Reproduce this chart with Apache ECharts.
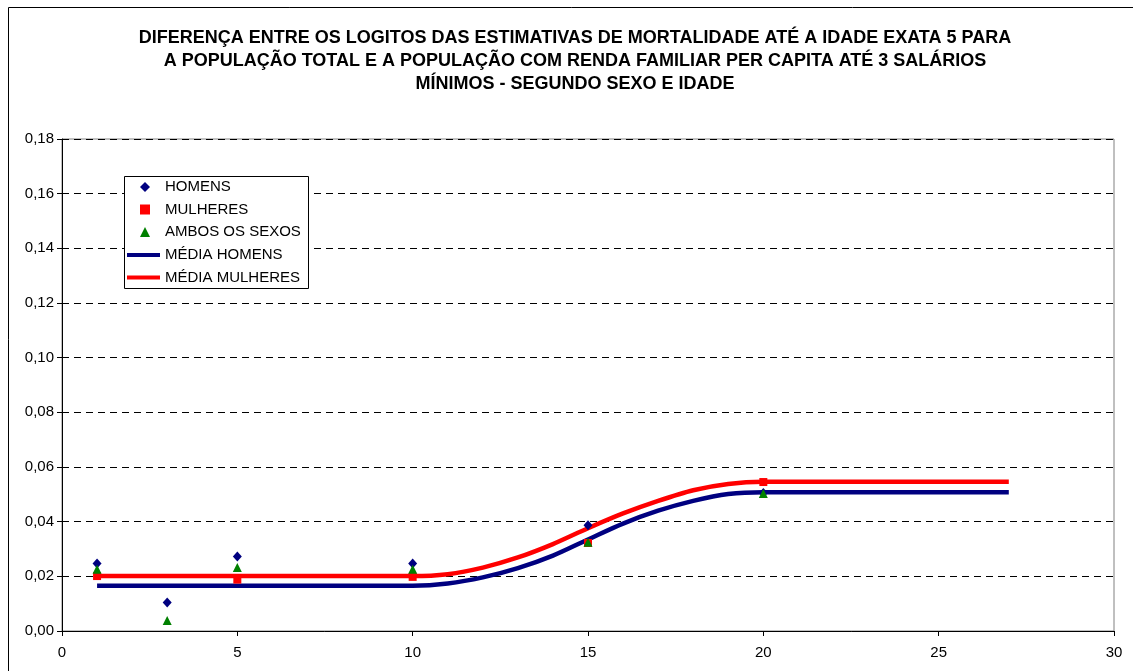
<!DOCTYPE html>
<html>
<head>
<meta charset="utf-8">
<script src="https://cdn.jsdelivr.net/npm/echarts@6/dist/echarts.min.js"></script>
<style>
  html, body { margin: 0; padding: 0; background: #fff; }
  #chart { width: 1133px; height: 671px; }
</style>
</head>
<body>
<div id="chart"></div>
<script>
// observed points (age, value)
const idades = [1, 3, 5, 10, 15, 20];
const homens = [0.0247, 0.0104, 0.0273, 0.0247, 0.0387, 0.0505];
const mulheres = [0.0201, null, 0.0188, 0.0198, 0.0322, 0.0545];
const ambos = [0.0226, 0.0038, 0.0232, 0.0226, 0.0325, 0.0503];

// average curves, ages 1..27
const idadesMedia = [1, 2, 3, 4, 5, 6, 7, 8, 9, 10, 11, 12, 13, 14, 15, 16, 17, 18, 19, 20, 21, 22, 23, 24, 25, 26, 27];
const mediaHomens = [0.0166, 0.0166, 0.0166, 0.0166, 0.0166, 0.0166, 0.0166, 0.0166, 0.0166, 0.0166,
  0.0174, 0.0196, 0.0230, 0.0276, 0.0335, 0.0393, 0.0440, 0.0476, 0.0501,
  0.0508, 0.0508, 0.0508, 0.0508, 0.0508, 0.0508, 0.0508, 0.0508];
const mediaMulheres = [0.0201, 0.0201, 0.0201, 0.0201, 0.0201, 0.0201, 0.0201, 0.0201, 0.0201, 0.0201,
  0.0208, 0.0232, 0.0269, 0.0318, 0.0376, 0.0430, 0.0476, 0.0515, 0.0538,
  0.0546, 0.0546, 0.0546, 0.0546, 0.0546, 0.0546, 0.0546, 0.0546];

const titulo = 'DIFERENÇA ENTRE OS LOGITOS DAS ESTIMATIVAS DE MORTALIDADE ATÉ A IDADE EXATA 5 PARA\n' +
  'A POPULAÇÃO TOTAL E A POPULAÇÃO COM RENDA FAMILIAR PER CAPITA ATÉ 3 SALÁRIOS\n' +
  'MÍNIMOS - SEGUNDO SEXO E IDADE';

const pares = (xs, ys) => xs.map((x, i) => [x, ys[i]]).filter(p => p[1] != null);
const fonte = '"Liberation Sans", Arial, sans-serif';

const chart = echarts.init(document.getElementById('chart'));
chart.setOption({
  backgroundColor: '#fff',
  animation: false,
  textStyle: {fontFamily: fonte, color: '#000'},
  title: {
    text: titulo,
    left: 570,
    top: 22,
    textAlign: 'center',
    textStyle: {fontSize: 18, fontWeight: 'bold', lineHeight: 23, color: '#000', fontFamily: fonte}
  },
  graphic: [
    {type: 'rect', shape: {x: 8.5, y: 7.5, width: 1200, height: 700}, style: {fill: null, stroke: '#000', lineWidth: 1}, z: 0},
    {type: 'rect', shape: {x: 124.5, y: 176.5, width: 184, height: 112}, style: {fill: '#fff', stroke: '#000', lineWidth: 1}, z: 3}
  ],
  legend: [
    {
      data: ['HOMENS', 'MULHERES', 'AMBOS OS SEXOS'],
      orient: 'vertical',
      left: 140, top: 179,
      padding: 0,
      itemWidth: 10, itemHeight: 10, itemGap: 6.5,
      selectedMode: false,
      z: 4,
      itemStyle: {opacity: 1},
      textStyle: {fontSize: 15, lineHeight: 16, color: '#000', fontFamily: fonte, padding: [0, 0, 0, 10]}
    },
    {
      data: [{name: 'MÉDIA HOMENS', icon: 'rect'}, {name: 'MÉDIA MULHERES', icon: 'rect'}],
      orient: 'vertical',
      left: 127, top: 247,
      padding: 0,
      itemWidth: 33, itemHeight: 4, itemGap: 6.5,
      selectedMode: false,
      z: 4,
      textStyle: {fontSize: 15, lineHeight: 16, color: '#000', fontFamily: fonte}
    }
  ],
  grid: {
    left: 62, right: 19, top: 139, bottom: 40,
    show: true, borderColor: '#808080', borderWidth: 1, backgroundColor: 'transparent'
  },
  xAxis: {
    type: 'value', min: 0, max: 30, interval: 5,
    axisLine: {lineStyle: {color: '#000', width: 1}},
    axisTick: {show: true, length: 5, lineStyle: {color: '#000'}},
    axisLabel: {fontSize: 15, color: '#000', margin: 14, fontFamily: fonte},
    splitLine: {show: false}
  },
  yAxis: {
    type: 'value', min: 0, max: 0.18, interval: 0.02,
    axisLine: {show: true, lineStyle: {color: '#000', width: 1}},
    axisTick: {show: true, length: 5, lineStyle: {color: '#000'}},
    axisLabel: {
      fontSize: 15, color: '#000', margin: 8, fontFamily: fonte,
      formatter: v => v.toFixed(2).replace('.', ',')
    },
    splitLine: {show: true, lineStyle: {color: '#000', type: [7, 5], width: 1}}
  },
  series: [
    {
      name: 'MÉDIA HOMENS', type: 'line', data: pares(idadesMedia, mediaHomens),
      symbol: 'none', smooth: 0.3, z: 2,
      lineStyle: {color: '#000080', width: 4.5}, itemStyle: {color: '#000080'}
    },
    {
      name: 'MÉDIA MULHERES', type: 'line', data: pares(idadesMedia, mediaMulheres),
      symbol: 'none', smooth: 0.3, z: 2,
      lineStyle: {color: '#ff0000', width: 4.5}, itemStyle: {color: '#ff0000'}
    },
    {
      name: 'HOMENS', type: 'scatter', data: pares(idades, homens),
      symbol: 'diamond', symbolSize: [9, 10], z: 3,
      itemStyle: {color: '#000080', opacity: 1}
    },
    {
      name: 'MULHERES', type: 'scatter', data: pares(idades, mulheres),
      symbol: 'rect', symbolSize: 8, z: 3,
      itemStyle: {color: '#ff0000', opacity: 1}
    },
    {
      name: 'AMBOS OS SEXOS', type: 'scatter', data: pares(idades, ambos),
      symbol: 'triangle', symbolSize: 9, z: 3,
      itemStyle: {color: '#008000', opacity: 1}
    }
  ]
});
</script>
</body>
</html>
